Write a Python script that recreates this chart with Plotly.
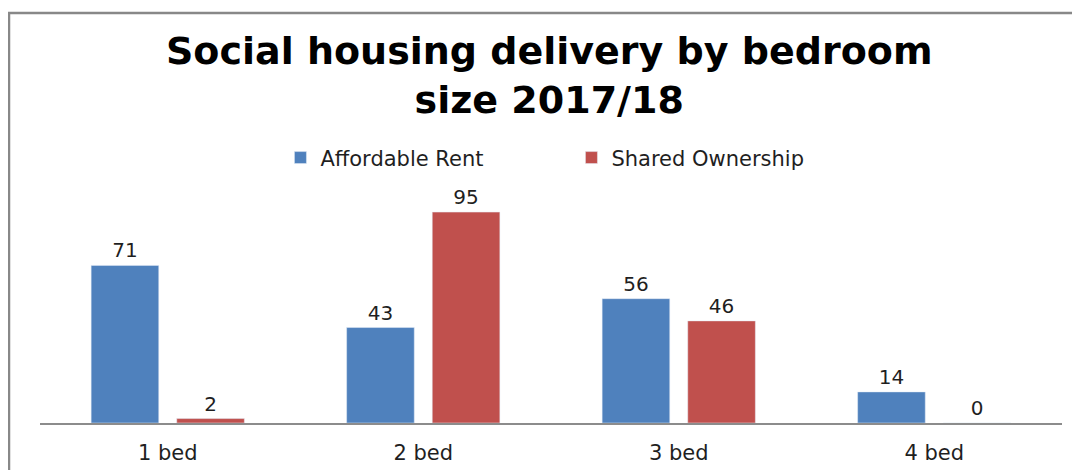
import plotly.graph_objects as go

categories = ["1 bed", "2 bed", "3 bed", "4 bed"]
affordable_rent = [71, 43, 56, 14]
shared_ownership = [2, 95, 46, 0]

TEXT = "#1f1f1f"
FONT = "DejaVu Sans"

fig = go.Figure()

fig.add_trace(go.Bar(
    x=categories,
    y=affordable_rent,
    name="Affordable Rent",
    marker_color="#4F81BD",
    text=affordable_rent,
    textposition="outside",
    cliponaxis=False,
))

fig.add_trace(go.Bar(
    x=categories,
    y=shared_ownership,
    name="Shared Ownership",
    marker_color="#C0504D",
    text=shared_ownership,
    textposition="outside",
    cliponaxis=False,
))

fig.update_traces(textfont=dict(family=FONT, size=20, color=TEXT))

fig.update_layout(
    width=1080,
    height=470,
    margin=dict(l=32, r=26, t=193, b=55),
    paper_bgcolor="white",
    plot_bgcolor="white",
    font=dict(family=FONT, size=20, color=TEXT),
    barmode="group",
    bargap=0.33,
    bargroupgap=0.21,
    legend=dict(
        orientation="h",
        x=0.52,
        xanchor="center",
        y=1.194,
        yanchor="middle",
        font=dict(family=FONT, size=21, color=TEXT),
        entrywidth=246,
        entrywidthmode="pixels",
    ),
    showlegend=True,
)

# two-line bold title
fig.add_annotation(
    text="<b>Social housing delivery by bedroom<br>size 2017/18</b>",
    xref="paper",
    yref="paper",
    x=0.499,
    y=1.565,
    xanchor="center",
    yanchor="middle",
    showarrow=False,
    font=dict(family=FONT, size=38, color="black"),
)

fig.update_xaxes(
    showline=True,
    linecolor="#8c8c8c",
    linewidth=1.5,
    ticks="",
    ticklabelstandoff=10,
    tickfont=dict(family=FONT, size=21, color=TEXT),
)
fig.update_yaxes(
    range=[0, 100],
    visible=False,
)

# outer chart frame, partly cut off at right and bottom
fig.add_shape(
    type="rect",
    xref="paper",
    yref="paper",
    x0=-31 / 1022,
    x1=1.05,
    y0=-0.4,
    y1=410 / 222,
    line=dict(color="#888888", width=2.5),
    fillcolor="rgba(0,0,0,0)",
)

fig.write_html("out.html")
